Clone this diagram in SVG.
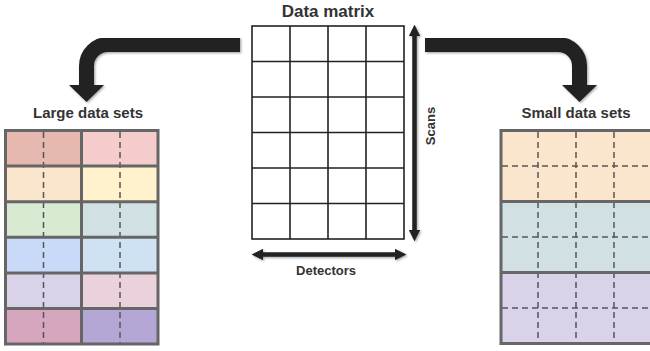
<svg xmlns="http://www.w3.org/2000/svg" width="650" height="351" viewBox="0 0 650 351">
<style>
.t{font-family:"Liberation Sans",Arial,sans-serif;font-weight:bold;fill:#333}
.mx{fill:#fff;stroke:#222;stroke-width:1.6}
.ml{stroke:#222;stroke-width:1.6}
.cell{stroke:none}
.bd{fill:none;stroke:#666;stroke-width:3}
.gl{stroke:#666;stroke-width:3}
.dash{stroke:#555;stroke-width:1.5;stroke-dasharray:6 4;fill:none}
.big{fill:none;stroke:#222;stroke-width:15}
.ax{stroke:#222;stroke-width:4.5;fill:none}
</style>
<defs>
<filter id="sh" x="-10%" y="-10%" width="130%" height="130%">
<feDropShadow dx="1.2" dy="1.2" stdDeviation="1" flood-color="#000" flood-opacity="0.35"/>
</filter>
<marker id="ah" viewBox="0 0 10 10" refX="2" refY="5" markerWidth="2.6" markerHeight="2.6" orient="auto-start-reverse">
<path d="M0,0 L10,5 L0,10 z" fill="#222"/>
</marker>
</defs>
<rect width="650" height="351" fill="#fff"/>

<g id="data-matrix">
<text class="t" x="328" y="17" font-size="17" text-anchor="middle">Data matrix</text>
<rect class="mx" x="252" y="26" width="152" height="213"/>
<path class="ml" d="M290,26V239M328,26V239M366,26V239M252,61.5H404M252,97H404M252,132.5H404M252,168H404M252,203.5H404"/>
</g>

<g id="large-data-sets">
<text class="t" x="88" y="118" font-size="15" text-anchor="middle">Large data sets</text>
<rect class="cell" x="5.5" y="130.5" width="76" height="35.6" fill="#e6b8af"/>
<rect class="cell" x="81.5" y="130.5" width="76.5" height="35.6" fill="#f4cccc"/>
<rect class="cell" x="5.5" y="166.1" width="76" height="35.6" fill="#fce5cd"/>
<rect class="cell" x="81.5" y="166.1" width="76.5" height="35.6" fill="#fff2cc"/>
<rect class="cell" x="5.5" y="201.7" width="76" height="35.6" fill="#d9ead3"/>
<rect class="cell" x="81.5" y="201.7" width="76.5" height="35.6" fill="#d0e0e3"/>
<rect class="cell" x="5.5" y="237.3" width="76" height="35.6" fill="#c9daf8"/>
<rect class="cell" x="81.5" y="237.3" width="76.5" height="35.6" fill="#cfe2f3"/>
<rect class="cell" x="5.5" y="272.9" width="76" height="35.6" fill="#d9d2e9"/>
<rect class="cell" x="81.5" y="272.9" width="76.5" height="35.6" fill="#ead1dc"/>
<rect class="cell" x="5.5" y="308.5" width="76" height="35.5" fill="#d5a6bd"/>
<rect class="cell" x="81.5" y="308.5" width="76.5" height="35.5" fill="#b4a7d6"/>
<path class="dash" d="M43.5,132V343M120,132V343"/>
<path class="gl" d="M81.5,130.5V344M5.5,166.1H158M5.5,201.7H158M5.5,237.3H158M5.5,272.9H158M5.5,308.5H158"/>
<rect class="bd" x="5.5" y="130.5" width="152.5" height="213.5"/>
</g>

<g id="small-data-sets">
<text class="t" x="576" y="118" font-size="15" text-anchor="middle">Small data sets</text>
<rect class="cell" x="501" y="130.5" width="155" height="71" fill="#fce5cd"/>
<rect class="cell" x="501" y="201.5" width="155" height="71" fill="#d0e0e3"/>
<rect class="cell" x="501" y="272.5" width="155" height="71" fill="#d9d2e9"/>
<path class="dash" d="M538,132V342M576,132V342M614,132V342M502,166H656M502,237H656M502,308H656"/>
<path class="gl" d="M501,201.5H656M501,272.5H656"/>
<rect class="bd" x="501" y="130.5" width="153" height="213"/>
</g>

<g id="connectors">
<g filter="url(#sh)">
<path class="big" d="M240,44.5H108A21.5,21.5 0 0 0 86.5,66V86"/>
<polygon points="69,85 104,85 86.5,102" fill="#222"/>
<path class="big" d="M425,44.5H558A21.5,21.5 0 0 1 579.5,66V86"/>
<polygon points="562,85 597,85 579.5,102" fill="#222"/>
</g>
<g filter="url(#sh)">
<line class="ax" x1="414.5" y1="34" x2="414.5" y2="232" marker-start="url(#ah)" marker-end="url(#ah)"/>
<line class="ax" x1="261" y1="254.5" x2="397" y2="254.5" marker-start="url(#ah)" marker-end="url(#ah)"/>
</g>
<text class="t" font-size="13" text-anchor="middle" transform="translate(434.5,126) rotate(-90)">Scans</text>
<text class="t" x="326" y="275" font-size="13" text-anchor="middle">Detectors</text>
</g>
</svg>
